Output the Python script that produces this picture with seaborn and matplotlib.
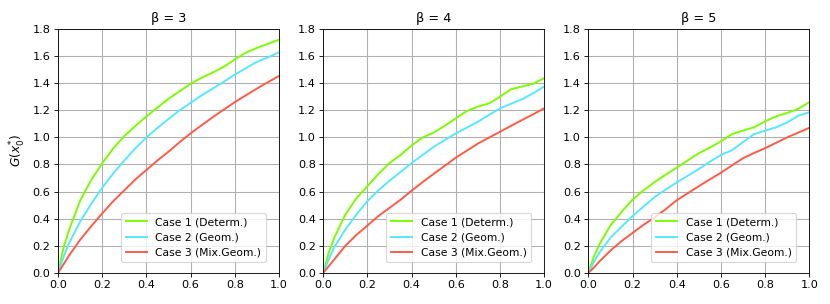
import numpy as np
import pandas as pd
import matplotlib
matplotlib.use("Agg")
from matplotlib import pyplot as plt
import seaborn as sns

# x positions (a finer step at the start, where the curves rise steeply)
x = [0, 0.025, 0.05, 0.1, 0.15, 0.2, 0.25, 0.3, 0.35, 0.4, 0.45, 0.5,
     0.55, 0.6, 0.65, 0.7, 0.75, 0.8, 0.85, 0.9, 0.95, 1.0]

betas = [3, 4, 5]
labels = ["Case 1 (Determ.)", "Case 2 (Geom.)", "Case 3 (Mix.Geom.)"]
colors = ["#7CFC00", "#55E8FF", "#FF5A46"]

b3_case1 = [0, 0.19, 0.32, 0.535, 0.685, 0.81, 0.92, 1.01, 1.085, 1.155, 1.22, 1.285, 1.34, 1.396, 1.44, 1.478, 1.52, 1.575, 1.625, 1.66, 1.69, 1.72]
b3_case2 = [0, 0.12, 0.22, 0.38, 0.51, 0.63, 0.735, 0.83, 0.92, 1.0, 1.07, 1.136, 1.20, 1.255, 1.31, 1.36, 1.41, 1.463, 1.51, 1.557, 1.59, 1.627]
b3_case3 = [0, 0.065, 0.13, 0.245, 0.345, 0.44, 0.53, 0.61, 0.69, 0.76, 0.83, 0.895, 0.965, 1.03, 1.09, 1.149, 1.205, 1.26, 1.31, 1.36, 1.407, 1.453]

b4_case1 = [0, 0.15, 0.26, 0.43, 0.55, 0.64, 0.73, 0.81, 0.87, 0.94, 1.0, 1.035, 1.085, 1.14, 1.194, 1.227, 1.25, 1.30, 1.355, 1.375, 1.395, 1.437]
b4_case2 = [0, 0.10, 0.19, 0.32, 0.43, 0.53, 0.61, 0.68, 0.745, 0.81, 0.87, 0.93, 0.98, 1.029, 1.072, 1.115, 1.165, 1.214, 1.248, 1.281, 1.325, 1.375]
b4_case3 = [0, 0.05, 0.10, 0.20, 0.28, 0.35, 0.42, 0.48, 0.54, 0.607, 0.67, 0.731, 0.79, 0.85, 0.902, 0.954, 0.998, 1.041, 1.085, 1.128, 1.17, 1.214]

b5_case1 = [0, 0.12, 0.21, 0.35, 0.45, 0.54, 0.61, 0.67, 0.725, 0.776, 0.83, 0.883, 0.925, 0.97, 1.024, 1.05, 1.074, 1.118, 1.155, 1.18, 1.21, 1.26]
b5_case2 = [0, 0.08, 0.15, 0.26, 0.34, 0.42, 0.49, 0.56, 0.615, 0.667, 0.717, 0.767, 0.82, 0.87, 0.905, 0.965, 1.024, 1.049, 1.074, 1.11, 1.16, 1.185]
b5_case3 = [0, 0.04, 0.085, 0.165, 0.235, 0.295, 0.355, 0.41, 0.47, 0.536, 0.588, 0.64, 0.69, 0.739, 0.793, 0.846, 0.885, 0.92, 0.96, 1.0, 1.035, 1.07]

series = {
    3: [b3_case1, b3_case2, b3_case3],
    4: [b4_case1, b4_case2, b4_case3],
    5: [b5_case1, b5_case2, b5_case3],
}

# the original looks like default matplotlib sizes rendered at a lower dpi
dpi = 77
fig, axes = plt.subplots(1, 3, figsize=(830 / dpi, 304 / dpi), dpi=dpi)
fig.subplots_adjust(left=0.07, right=0.975, top=0.905, bottom=0.102, wspace=0.2)

for ax, b in zip(axes, betas):
    for ys, lab, col in zip(series[b], labels, colors):
        sns.lineplot(x=x, y=ys, ax=ax, color=col, label=lab, linewidth=1.8)
    ax.set_xlim(0, 1)
    ax.set_ylim(0, 1.8)
    ax.set_xticks(np.arange(0, 1.01, 0.2))
    ax.set_yticks(np.arange(0, 1.81, 0.2))
    ax.tick_params(labelsize=10.5)
    ax.grid(True, color="#b0b0b0", linewidth=1.0)
    ax.set_title(f"β = {b}", fontsize=12)
    ax.legend(loc="lower right", bbox_to_anchor=(0.94, 0.045), borderaxespad=0, fontsize=10)

axes[0].set_ylabel("$G(x_0^{*})$", fontsize=11.5)

fig.savefig("out.png", dpi=dpi)
